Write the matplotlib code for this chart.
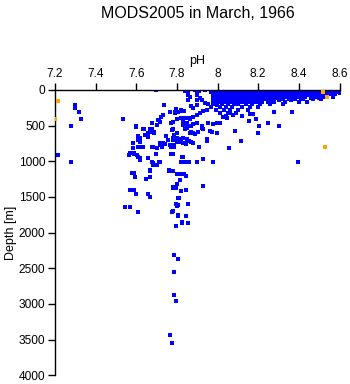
import matplotlib
matplotlib.use('Agg')
import matplotlib.pyplot as plt

plt.rcParams['font.family'] = ['Liberation Sans', 'DejaVu Sans']

# scattered individual samples (pH, depth in m)
scatter_ph = [
    7.298, 7.298, 7.32, 7.328, 7.277, 7.216, 7.277, 7.536, 7.697, 7.738,
    7.597, 7.638, 7.607, 7.612, 7.618, 7.61, 7.585, 7.659, 7.679, 7.687,
    7.70, 7.708, 7.722, 7.73, 7.717, 7.679, 7.766, 7.79, 7.799, 7.769,
    7.782, 7.799, 7.745, 7.755, 7.779, 7.733, 7.717, 7.784, 7.679, 7.70,
    7.635, 7.566, 7.589, 7.607, 7.618, 7.659, 7.679, 7.70, 7.717, 7.697,
    7.769, 7.779, 7.669, 7.667, 7.646, 7.58, 7.59, 7.594, 7.763, 7.779,
    7.569, 7.589, 7.599, 7.658, 7.667, 7.779, 7.79, 7.80, 7.81, 7.805,
    7.545, 7.569, 7.607, 7.777, 7.807, 7.795, 7.826, 7.826, 7.856, 7.787,
    7.807, 7.787, 7.787, 7.797, 7.767, 7.777,
    7.771, 7.786, 7.80, 7.815, 7.83, 7.845, 7.909, 7.946, 8.058, 8.115,
    7.774, 7.827, 7.823, 7.84, 7.856, 7.897, 7.927, 7.979, 7.774, 7.818,
    7.835, 7.845, 7.815, 7.782, 7.795, 7.818, 7.845, 7.927, 7.807, 7.795,
    7.80, 7.856, 7.779, 7.807, 7.845, 8.397,
    8.16, 8.176, 8.156, 8.19, 8.205, 8.25, 8.30, 8.368, 8.28, 8.087,
    8.197, 7.999, 7.946, 7.963, 7.971, 7.905, 7.889, 7.864, 7.84, 7.848,
    7.848, 7.828, 7.799, 7.79, 7.807, 7.823, 7.782, 7.774, 7.786, 7.78,
    7.80, 7.83, 7.848, 7.818, 7.845, 7.87, 7.88, 7.922, 7.93, 7.955,
    7.98, 7.996, 8.012, 8.028, 8.045, 8.061, 8.077, 7.864, 7.88, 7.897,
    7.913, 7.93, 7.946, 7.897, 7.922, 7.868, 7.88, 7.938, 7.955, 7.979,
    7.996, 7.856, 7.864, 7.897, 7.913, 7.922, 7.84, 7.856, 7.889, 7.91,
    7.938,
    7.84, 7.85, 7.897, 7.856, 7.897, 7.897, 7.794, 7.818, 7.835, 7.72,
    7.71, 7.70, 7.60, 7.635, 7.67, 7.676, 7.82, 7.84, 7.86, 7.83,
    7.85, 7.87, 7.88, 7.607, 7.607, 7.618, 7.643, 7.659, 7.689, 7.717,
    7.73, 7.742, 7.78, 7.80, 7.81, 7.82, 7.848, 7.86, 7.87, 7.88,
    7.582, 7.61, 7.627, 7.68, 7.725, 7.766, 7.779, 7.569, 7.59, 7.602,
    7.618, 7.659, 7.697, 7.77, 7.78, 7.828, 7.818, 7.84, 7.86, 7.68,
    7.68, 7.713, 7.763, 7.779, 7.667, 7.577, 7.589, 7.80, 7.818,
]
scatter_depth = [
    210, 257, 313, 411, 510, 908, 1006, 411, 5, 210,
    510, 552, 645, 690, 725, 670, 748, 608, 548, 594,
    491, 421, 383, 351, 454, 459, 313, 313, 411, 459,
    552, 608, 645, 702, 702, 748, 772, 772, 795, 818,
    795, 912, 889, 936, 983, 959, 1015, 1053, 1006, 898,
    898, 898, 1123, 1217, 1254, 1160, 1170, 1226, 1123, 1140,
    1404, 1404, 1464, 1464, 1506, 1380, 1366, 1320, 1520, 1614,
    1646, 1646, 1716, 1707, 1768, 1909, 1848, 1862, 1862, 2320,
    2367, 2559, 2882, 2966, 3434, 3555,
    805, 795, 725, 735, 745, 760, 805, 711, 818, 711,
    898, 945, 1006, 1006, 1006, 1006, 973, 1006, 1132, 1184,
    1184, 1207, 1263, 1366, 1380, 1418, 1404, 1352, 1520, 1605,
    1624, 1605, 1698, 1759, 1773, 1006,
    341, 341, 435, 411, 500, 459, 505, 313, 304, 575,
    608, 608, 692, 571, 585, 585, 617, 608, 552, 515,
    538, 491, 411, 327, 313, 295, 454, 561, 632, 678,
    678, 678, 692, 725, 748, 585, 608, 538, 552, 468,
    477, 468, 468, 374, 397, 327, 351, 411, 383, 351,
    318, 290, 281, 468, 505, 225, 257, 187, 196, 187,
    210, 70, 103, 70, 117, 140, 0, 23, 5, 10,
    8,
    10, 12, 10, 136, 140, 210, 267, 281, 295, 374,
    420, 491, 515, 552, 543, 585, 397, 397, 397, 440,
    470, 500, 480, 655, 702, 680, 632, 664, 608, 748,
    755, 762, 678, 690, 702, 690, 702, 720, 735, 748,
    818, 795, 795, 795, 795, 772, 782, 889, 900, 912,
    959, 959, 903, 898, 898, 936, 1006, 1006, 1006, 1029,
    1053, 1015, 1137, 1137, 1137, 1170, 1170, 1184, 1184,
]

# the dense surface cluster, read row by row
row_depths = [0, 15, 30, 45, 60, 78, 95, 112, 130, 148, 165, 200, 240, 280, 320, 370]
row_ph = [
    [7.98, 8.00, 8.02, 8.04, 8.06, 8.08, 8.10, 8.12, 8.14, 8.16, 8.18, 8.20,
     8.22, 8.24, 8.26, 8.28, 8.30, 8.32, 8.34, 8.36, 8.38, 8.40, 8.42, 8.44,
     8.46, 8.48, 8.50, 8.52, 8.54, 8.56, 8.58, 8.60],
    [7.99, 8.01, 8.03, 8.05, 8.07, 8.09, 8.11, 8.13, 8.15, 8.17, 8.19, 8.21,
     8.23, 8.25, 8.27, 8.29, 8.31, 8.33, 8.35, 8.37, 8.39, 8.41, 8.43, 8.45,
     8.47, 8.49, 8.51, 8.53, 8.55, 8.57, 8.59],
    [7.97, 7.99, 8.01, 8.03, 8.05, 8.07, 8.09, 8.11, 8.13, 8.15, 8.17, 8.19,
     8.21, 8.23, 8.25, 8.27, 8.29, 8.31, 8.33, 8.35, 8.37, 8.39, 8.41, 8.43,
     8.45, 8.47, 8.49, 8.51, 8.55, 8.57, 8.59, 8.60],
    [7.98, 8.00, 8.02, 8.04, 8.06, 8.08, 8.10, 8.12, 8.14, 8.16, 8.18, 8.20,
     8.22, 8.24, 8.26, 8.28, 8.30, 8.32, 8.34, 8.36, 8.38, 8.40, 8.42, 8.44,
     8.46, 8.48, 8.50, 8.54, 8.56, 8.58, 8.60],
    [7.98, 8.00, 8.02, 8.04, 8.06, 8.08, 8.10, 8.12, 8.14, 8.16, 8.18, 8.20,
     8.22, 8.24, 8.26, 8.28, 8.30, 8.32, 8.34, 8.36, 8.38, 8.41, 8.43, 8.45,
     8.47, 8.50, 8.52, 8.56, 8.58],
    [7.99, 8.01, 8.03, 8.05, 8.07, 8.09, 8.11, 8.13, 8.15, 8.17, 8.19, 8.21,
     8.23, 8.25, 8.27, 8.29, 8.31, 8.34, 8.37, 8.42, 8.44, 8.48, 8.53, 8.57],
    [7.98, 8.00, 8.02, 8.04, 8.06, 8.08, 8.10, 8.12, 8.14, 8.16, 8.18, 8.20,
     8.22, 8.24, 8.26, 8.28, 8.30, 8.33, 8.36, 8.40, 8.43, 8.46, 8.49, 8.52,
     8.57],
    [7.99, 8.01, 8.03, 8.05, 8.07, 8.09, 8.11, 8.13, 8.15, 8.17, 8.20, 8.23,
     8.25, 8.27, 8.29, 8.32, 8.38, 8.41, 8.46, 8.50],
    [7.98, 8.00, 8.03, 8.05, 8.07, 8.09, 8.12, 8.14, 8.16, 8.18, 8.21, 8.23,
     8.25, 8.28, 8.31, 8.35, 8.38, 8.42, 8.47, 8.51],
    [7.99, 8.02, 8.04, 8.06, 8.08, 8.11, 8.13, 8.15, 8.17, 8.20, 8.22, 8.26,
     8.30, 8.36],
    [7.99, 8.01, 8.04, 8.06, 8.09, 8.11, 8.13, 8.16, 8.19, 8.22, 8.25, 8.28,
     8.33, 8.40, 8.44],
    [7.98, 8.02, 8.05, 8.08, 8.10, 8.14, 8.17, 8.21, 8.26, 8.32],
    [7.97, 8.01, 8.04, 8.07, 8.12, 8.16, 8.20],
    [7.99, 8.03, 8.06, 8.10, 8.15],
    [8.01, 8.05, 8.09],
    [8.04, 8.12],
]

# flagged samples
flag_ph = [7.216, 7.2, 8.529, 8.52, 8.54]
flag_depth = [160, 410, 805, 28, 94]

ph_ticks = [7.2, 7.4, 7.6, 7.8, 8.0, 8.2, 8.4, 8.6]
ph_labels = ['7.2', '7.4', '7.6', '7.8', '8', '8.2', '8.4', '8.6']
depth_ticks = [0, 500, 1000, 1500, 2000, 2500, 3000, 3500, 4000]

fig = plt.figure(figsize=(3.5, 3.84), dpi=100)
ax = fig.add_axes([0.157, 0.023, 0.813, 0.743])

dense_ph = [p for row in row_ph for p in row]
dense_depth = [d for d, row in zip(row_depths, row_ph) for _ in row]

blue = '#0000ff'
kw = dict(s=8, marker='s', linewidths=0, antialiased=False)
ax.scatter(scatter_ph, scatter_depth, color=blue, **kw)
ax.scatter(dense_ph, dense_depth, color=blue, **kw)
ax.scatter(flag_ph, flag_depth, color='#ffa500', zorder=3, **kw)

ax.set_xlim(7.2, 8.6)
ax.set_ylim(4000, 0)
ax.xaxis.set_ticks_position('top')
ax.xaxis.set_label_position('top')
ax.set_xticks(ph_ticks)
ax.set_xticklabels(ph_labels)
ax.set_yticks(depth_ticks)
ax.set_xlabel('pH', fontsize=9, labelpad=3)
ax.set_ylabel('Depth [m]', fontsize=9, labelpad=1)
ax.tick_params(labelsize=8.6, length=5, width=1, color='black', pad=2)

for side in ['right', 'bottom']:
    ax.spines[side].set_visible(False)
for side in ['left', 'top']:
    ax.spines[side].set_linewidth(1)

fig.text(0.565, 0.965, 'MODS2005 in March, 1966', ha='center', va='center', fontsize=11.5)

fig.savefig('out.png', dpi=100)
